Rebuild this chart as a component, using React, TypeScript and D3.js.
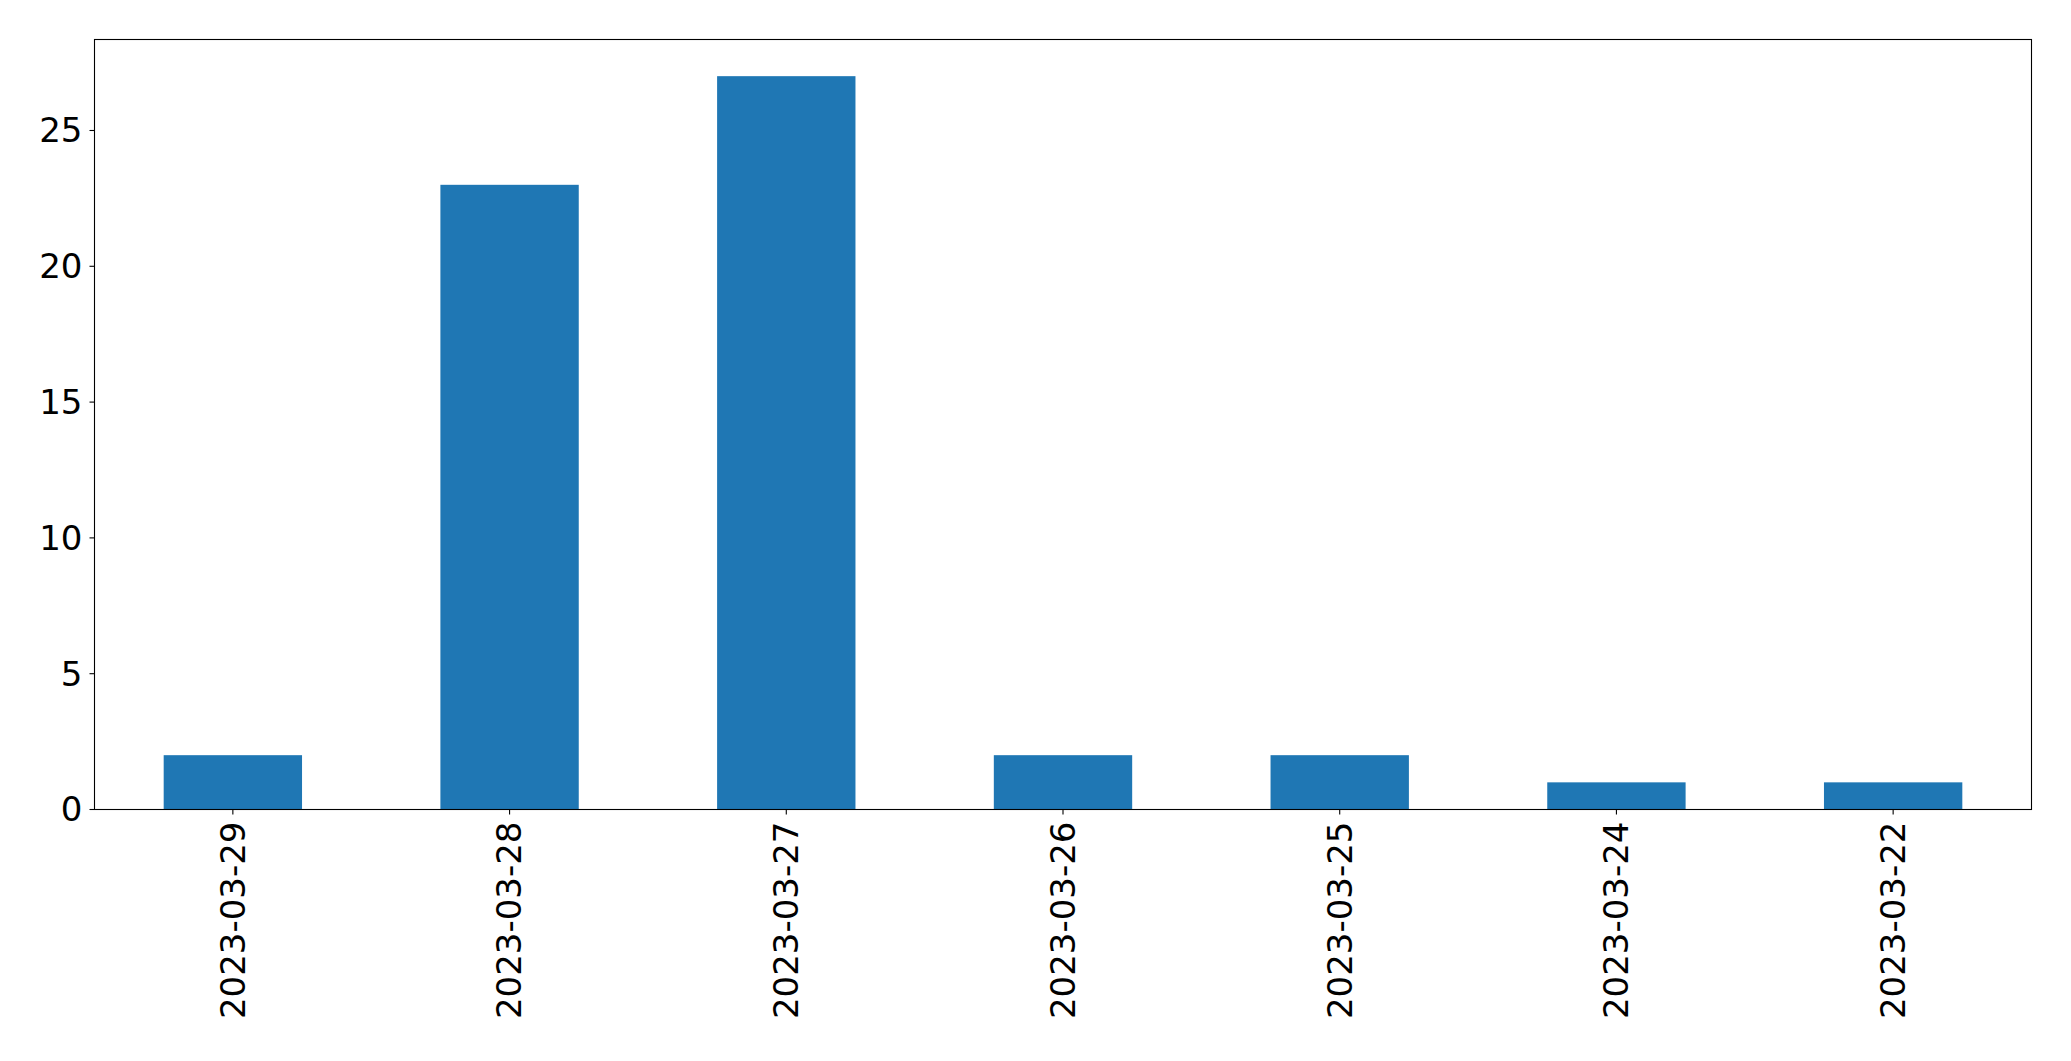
import React from "react";
import * as d3 from "d3";

const categories = ["2023-03-29", "2023-03-28", "2023-03-27", "2023-03-26", "2023-03-25", "2023-03-24", "2023-03-22"];
const counts = [2, 23, 27, 2, 2, 1, 1];
const yTicks = [0, 5, 10, 15, 20, 25];

const W = 2071;
const H = 1061;
const left = 94.5;
const right = 2031.5;
const top = 39.5;
const bottom = 809.5;
const fontSize = 34;

export default function App() {
  const n = categories.length;
  const x = d3.scaleLinear().domain([-0.5, n - 0.5]).range([left, right]);
  const yMax = d3.max(counts)! * 1.05;
  const y = d3.scaleLinear().domain([0, yMax]).range([bottom, top]);
  const barW = 0.5;

  return (
    <svg width={W} height={H} style={{ position: "absolute", left: 0, top: 0 }} fontFamily="DejaVu Sans" >
      <rect x={0} y={0} width={W} height={H} fill="white" />
      {counts.map((v, i) => (
        <rect
          key={i}
          x={x(i - barW / 2)}
          y={y(v)}
          width={x(i + barW / 2) - x(i - barW / 2)}
          height={y(0) - y(v)}
          fill="#1f77b4"
        />
      ))}
      <rect x={left} y={top} width={right - left} height={bottom - top} fill="none" stroke="black" strokeWidth={1.1} />
      {yTicks.map((t) => (
        <g key={t}>
          <line x1={left - 5} x2={left} y1={y(t)} y2={y(t)} stroke="black" strokeWidth={1.1} />
          <text x={left - 12} y={y(t)} dy="0.35em" textAnchor="end" fontSize={fontSize} fill="black">
            {t}
          </text>
        </g>
      ))}
      {categories.map((c, i) => (
        <g key={c}>
          <line x1={x(i)} x2={x(i)} y1={bottom} y2={bottom + 5} stroke="black" strokeWidth={1.1} />
          <text
            transform={`translate(${x(i)},${bottom + 12}) rotate(-90)`}
            textAnchor="end"
            dy="0.35em"
            fontSize={fontSize}
            fill="black"
          >
            {c}
          </text>
        </g>
      ))}
    </svg>
  );
}
